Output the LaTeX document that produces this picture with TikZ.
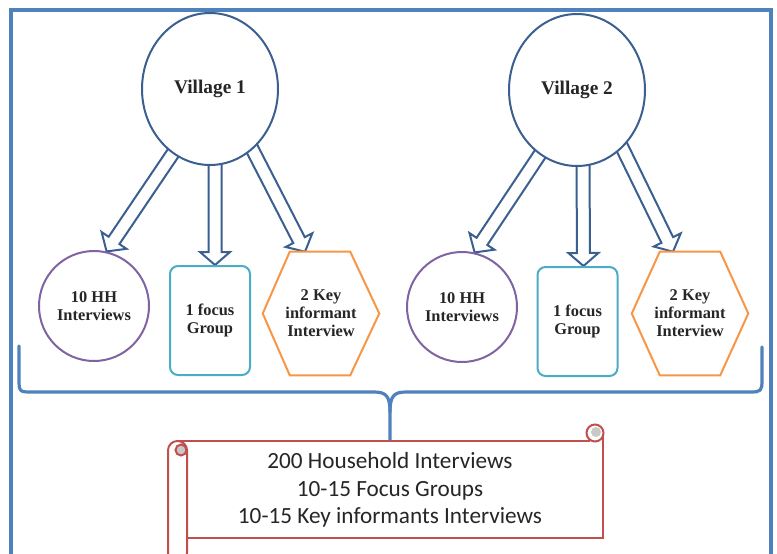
\documentclass[tikz,border=0pt]{standalone}
\usepackage{fontspec}
\setmainfont{Liberation Serif}
\newfontfamily\scrollfont{Carlito}
\usetikzlibrary{shapes.geometric,calc,backgrounds}
\definecolor{frameblue}{HTML}{4F81BD}
\definecolor{vilblue}{HTML}{3B6090}
\definecolor{hhpurple}{HTML}{8064A2}
\definecolor{fgcyan}{HTML}{4BACC6}
\definecolor{kiorange}{HTML}{F79646}
\definecolor{scrollred}{HTML}{C0504D}
\definecolor{curlgray}{HTML}{C8C8C8}
\definecolor{txt}{HTML}{262626}
\newcommand\barrow[2]{%
  \draw[blockarrow] let \p1=(#1), \p2=(#2),
    \n1={atan2(\y2-\y1,\x2-\x1)},
    \n2={veclen(\x2-\x1,\y2-\y1)-9.75pt} in
    ($(\p1)+(\n1+90:4.875pt)$) -- ++(\n1:\n2) -- ++(\n1+90:6.375pt) -- (\p2)
    -- ($(\p1)+(\n1:\n2)+(\n1-90:11.25pt)$) -- ++(\n1+90:6.375pt)
    -- ++(\n1+180:\n2) -- cycle;}
\begin{document}
\begin{tikzpicture}[x=0.75pt,y=-0.75pt,
  village/.style={ellipse, draw=vilblue, line width=1.5pt, fill=white, inner sep=0pt,
    minimum width=102pt, minimum height=114pt, text=txt,
    font=\bfseries\fontsize{14.5}{16}\selectfont},
  small/.style={text=txt, align=center, inner sep=0pt,
    font=\bfseries\fontsize{12.3}{13.5}\selectfont},
  hhnode/.style={small, circle, draw=hhpurple, line width=1.5pt, fill=white, minimum size=82.5pt},
  fgnode/.style={small, rectangle, rounded corners=6pt, draw=fgcyan, line width=1.5pt, fill=white,
    minimum width=60pt, minimum height=81.75pt},
  kinode/.style={small, rectangle, minimum width=87pt, minimum height=92.25pt},
  hexline/.style={draw=kiorange, line width=1.5pt, line join=miter, fill=white},
  blockarrow/.style={draw=vilblue, line width=1.5pt, fill=white, line join=miter},
  bracestyle/.style={draw=frameblue, line width=2.4pt, line cap=round, line join=round},
  scrollline/.style={draw=scrollred, line width=1.5pt},
]
\useasboundingbox (0,0) rectangle (777,553);
% frame
\draw[frameblue, line width=2.4pt] (11,10) rectangle (771,580);

% brace
\draw[bracestyle] (19,346) -- (19,380) .. controls (19,392) and (20,392) .. (32,392)
  -- (374,392) .. controls (386,392) and (390,396) .. (390,412) -- (390,441);
\draw[bracestyle] (390,412) .. controls (390,396) and (394,392) .. (406,392)
  -- (750,392) .. controls (761,392) and (762,391) .. (762,380) -- (762,347);

% scroll
\fill[white] (187,441) rectangle (603,538);
\draw[scrollline] (177,441) -- (590,441);
\draw[scrollline] (603,433) -- (603,538) -- (187,538);
\draw[scrollline, fill=white, rounded corners=7pt] (168,441) rectangle (187,562);
\draw[scrollline, fill=curlgray] (181,450) circle (5.5);
\draw[scrollline, fill=white] (595,433) circle (8.5);
\fill[curlgray] (596,432) circle (5);
\node[text=txt, align=center, font=\scrollfont\fontsize{17.4}{20.5}\selectfont] (sum) at (390,490)
  {200 Household Interviews\\10-15 Focus Groups\\10-15 Key informants Interviews};

% villages
\node[village] (v1) at (210,89) {Village 1};
\node[village] (v2) at (577,90) {Village 2};

% village 1 children
\node[hhnode] (hh1) at (94,306) {10 HH\\Interviews};
\node[fgnode] (fg1) at (210,320.5) {1 focus\\Group};
\node[kinode] (ki1) at (321,313.5) {};
\draw[hexline] (ki1.west) -- ([xshift=20.25pt]ki1.north west) -- ([xshift=-21.75pt]ki1.north east)
  -- (ki1.east) -- ([xshift=-21.75pt]ki1.south east) -- ([xshift=20.25pt]ki1.south west) -- cycle;
\node[small] at (ki1) {2 Key\\informant\\Interview};

% village 2 children
\node[hhnode] (hh2) at (462,307) {10 HH\\Interviews};
\node[fgnode] (fg2) at (577.5,321.5) {1 focus\\Group};
\node[kinode] (ki2) at (690,313.5) {};
\draw[hexline] (ki2.west) -- ([xshift=21pt]ki2.north west) -- ([xshift=-21pt]ki2.north east)
  -- (ki2.east) -- ([xshift=-21pt]ki2.south east) -- ([xshift=21pt]ki2.south west) -- cycle;
\node[small] at (ki2) {2 Key\\informant\\Interview};

% block arrows
\begin{pgfonlayer}{background}
\barrow{$(v1.-120)!-9pt!(hh1.77)$}{hh1.77}
\barrow{$([xshift=3.75pt]v1.south)+(0,-12)$}{[xshift=3.75pt]fg1.north}
\barrow{$(v1.-55)!-9pt!([xshift=-12pt]ki1.north)$}{[xshift=-12pt]ki1.north}
\barrow{$(v2.-120)!-9pt!(hh2.77)$}{hh2.77}
\barrow{$([xshift=4.5pt]v2.south)+(0,-12)$}{[xshift=4.5pt]fg2.north}
\barrow{$(v2.-52)!-9pt!([xshift=-12.75pt]ki2.north)$}{[xshift=-12.75pt]ki2.north}
\end{pgfonlayer}
\end{tikzpicture}
\end{document}
